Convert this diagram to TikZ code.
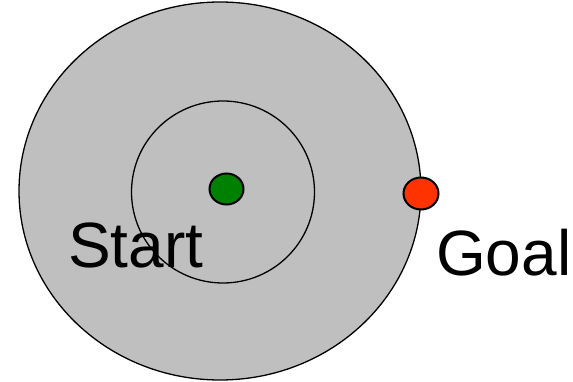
\documentclass[tikz,border=0pt]{standalone}
\usepackage{fontspec}
\setmainfont{Liberation Sans}
\usetikzlibrary{shapes.geometric}
\definecolor{goalred}{RGB}{255,51,0}
\begin{document}
\begin{tikzpicture}[x=1pt,y=-1pt,
  ring/.style={ellipse,draw=black,line width=1.3pt,inner sep=0pt},
  dot/.style={ellipse,draw=black,line width=2pt,inner sep=0pt},
  lbl/.style={anchor=base west,inner sep=0pt,font=\fontsize{64}{64}\selectfont}]
\useasboundingbox (0,0) rectangle (573,382);
\node[ring,fill=black!25,minimum width=402pt,minimum height=378pt] (outer) at (220,191) {};
\node[ring,minimum width=183pt,minimum height=182pt] (inner) at (223,192) {};
\node[dot,fill=green!50!black,minimum width=34pt,minimum height=31pt] (start) at (226.5,189) {};
\node[dot,fill=goalred,minimum width=35pt,minimum height=32pt] (goal) at (421,193.5) {};
\node[lbl] (startlbl) at (68,268) {Start};
\node[lbl] (goallbl) at (436,275) {Goal};
\end{tikzpicture}
\end{document}
